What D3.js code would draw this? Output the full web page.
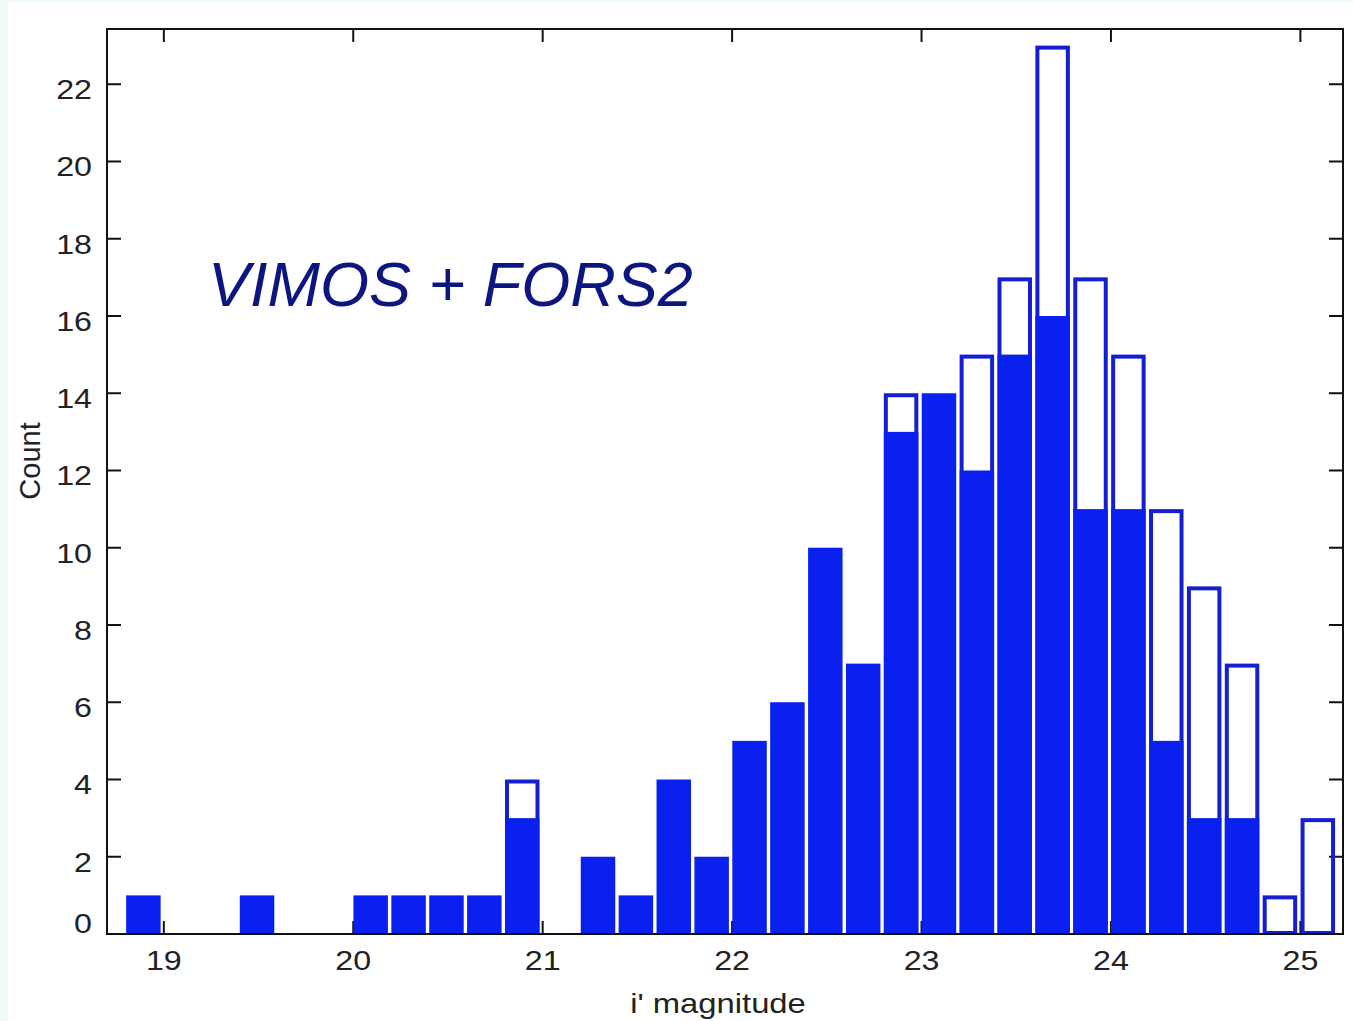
<!DOCTYPE html>
<html lang="en">
	<head>
		<meta charset="utf-8">
		<title>i' magnitude histogram</title>
		<script type="text/javascript" src="https://cdn.jsdelivr.net/npm/d3@7"></script>
		<style type="text/css">
			body { margin: 0; background: #f3fafa; }
			svg { display: block; }
		</style>
	</head>
	<body>
		<script type="text/javascript">
			/** Data: bin left edges, full counts and filled counts **/
			var binStart = [18.8, 19.0, 19.2, 19.4, 19.6, 19.8, 20.0, 20.2, 20.4, 20.6, 20.8, 21.0,
			                21.2, 21.4, 21.6, 21.8, 22.0, 22.2, 22.4, 22.6, 22.8, 23.0, 23.2, 23.4,
			                23.6, 23.8, 24.0, 24.2, 24.4, 24.6, 24.8, 25.0];
			var totalCount = [1, 0, 0, 1, 0, 0, 1, 1, 1, 1, 4, 0,
			                  2, 1, 4, 2, 5, 6, 10, 7, 14, 14, 15, 17,
			                  23, 17, 15, 11, 9, 7, 1, 3];
			var filledCount = [1, 0, 0, 1, 0, 0, 1, 1, 1, 1, 3, 0,
			                   2, 1, 4, 2, 5, 6, 10, 7, 13, 14, 12, 15,
			                   16, 11, 11, 5, 3, 3, 0, 0];
			var binWidth = 0.2;
			var xTicks = [19, 20, 21, 22, 23, 24, 25];
			var yTicks = [0, 2, 4, 6, 8, 10, 12, 14, 16, 18, 20, 22];

			var width = 1353;
			var height = 1021;
			var plotL = 107, plotR = 1343, plotT = 29, plotB = 934;

			var svg = d3.select("body").append("svg")
				.attr("width", width)
				.attr("height", height);

			// white panel
			svg.append("rect")
				.attr("x", 8).attr("y", 3)
				.attr("width", width - 8).attr("height", height - 3)
				.attr("fill", "#ffffff");

			var x = d3.scaleLinear().domain([18.7, 25.225]).range([plotL, plotR]);
			var y = d3.scaleLinear().domain([0, 23.43]).range([plotB, plotT]);

			var bins = binStart.map((b, i) => ({ x0: b, total: totalCount[i], filled: filledCount[i] }));

			var axisFont = "'Liberation Sans', Arial, sans-serif";

			/** Tick marks (inward, on all four sides) **/
			var ticks = svg.append("g").attr("stroke", "#111").attr("stroke-width", 2);
			ticks.selectAll(".xb").data(xTicks).enter().append("line")
				.attr("x1", d => x(d)).attr("x2", d => x(d))
				.attr("y1", plotB).attr("y2", plotB - 13);
			ticks.selectAll(".xt").data(xTicks).enter().append("line")
				.attr("x1", d => x(d)).attr("x2", d => x(d))
				.attr("y1", plotT).attr("y2", plotT + 13);
			ticks.selectAll(".yl").data(yTicks).enter().append("line")
				.attr("x1", plotL).attr("x2", plotL + 14)
				.attr("y1", d => y(d)).attr("y2", d => y(d));
			ticks.selectAll(".yr").data(yTicks).enter().append("line")
				.attr("x1", plotR).attr("x2", plotR - 14)
				.attr("y1", d => y(d)).attr("y2", d => y(d));

			/** Bars **/
			var bw = x(18.7 + binWidth) - x(18.7);
			var gap = 3.4;
			var shift = -1.5;	// bars sit a touch left of the ticks in the original

			svg.selectAll("rect.total")
				.data(bins.filter(d => d.total > d.filled))
				.enter().append("rect")
				.attr("class", "total")
				.attr("x", d => x(d.x0) + shift + gap / 2 + 2)
				.attr("y", d => y(d.total) + 2)
				.attr("width", bw - gap - 4)
				.attr("height", d => y(0) - y(d.total) - 3)
				.attr("fill", "none")
				.attr("stroke", "#1420d0")
				.attr("stroke-width", 4);

			svg.selectAll("rect.filled")
				.data(bins.filter(d => d.filled > 0))
				.enter().append("rect")
				.attr("class", "filled")
				.attr("x", d => x(d.x0) + shift + gap / 2)
				.attr("y", d => y(d.filled))
				.attr("width", bw - gap)
				.attr("height", d => y(0) - y(d.filled))
				.attr("fill", "#0a20ee");

			/** Frame **/
			svg.append("rect")
				.attr("x", plotL).attr("y", plotT)
				.attr("width", plotR - plotL).attr("height", plotB - plotT)
				.attr("fill", "none")
				.attr("stroke", "#111")
				.attr("stroke-width", 2);

			/** Tick labels **/
			svg.selectAll("text.xl").data(xTicks).enter().append("text")
				.attr("transform", d => "translate(" + x(d) + "," + 970 + ") scale(1.15,1)")
				.attr("text-anchor", "middle")
				.attr("font-family", axisFont)
				.attr("font-size", "28px")
				.attr("fill", "#222")
				.text(d => d);

			svg.selectAll("text.yl").data(yTicks).enter().append("text")
				.attr("transform", d => "translate(" + 92 + "," + (d === 0 ? 933 : y(d) + 15) + ") scale(1.15,1)")
				.attr("text-anchor", "end")
				.attr("font-family", axisFont)
				.attr("font-size", "28px")
				.attr("fill", "#222")
				.text(d => d);

			/** Axis titles **/
			svg.append("text")
				.attr("transform", "translate(718,1013) scale(1.17,1)")
				.attr("text-anchor", "middle")
				.attr("font-family", axisFont)
				.attr("font-size", "28px")
				.attr("fill", "#222")
				.text("i' magnitude");

			svg.append("text")
				.attr("transform", "translate(40,461) rotate(-90)")
				.attr("text-anchor", "middle")
				.attr("font-family", axisFont)
				.attr("font-size", "29px")
				.attr("fill", "#222")
				.text("Count");

			/** Annotation **/
			svg.append("text")
				.attr("x", 208).attr("y", 306)
				.attr("font-family", axisFont)
				.attr("font-style", "italic")
				.attr("font-size", "63px")
				.attr("fill", "#0d1680")
				.text("VIMOS + FORS2");
		</script>
	</body>
</html>
